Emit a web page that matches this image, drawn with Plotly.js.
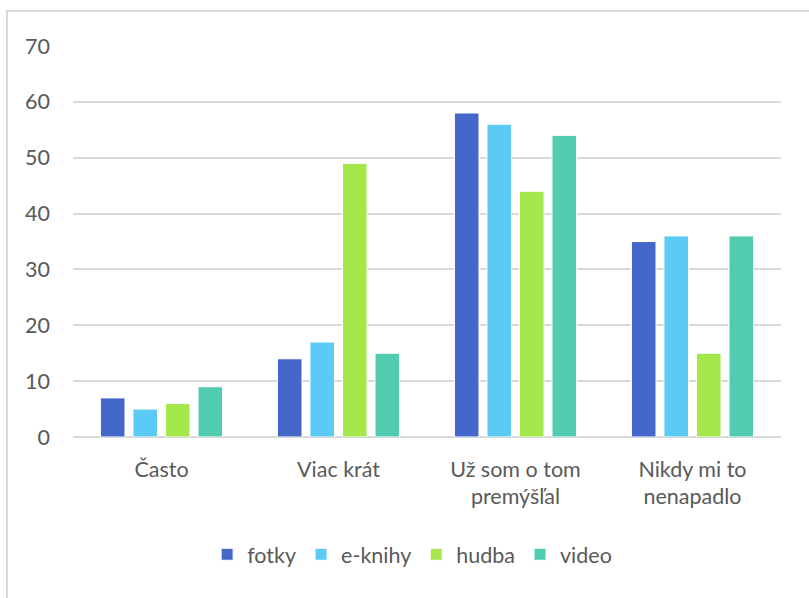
<!DOCTYPE html>
<html>
<head>
<meta charset="utf-8">
<script src="https://cdn.plot.ly/plotly-3.0.1.min.js"></script>
<style>
  html, body { margin: 0; padding: 0; background: #ffffff; }
  #chart { width: 809px; height: 598px; }
</style>
</head>
<body>
<div id="chart"></div>
<script>
// Answer categories (x axis)
const categories = ["Často", "Viac krát", "Už som o tom<br>premýšľal", "Nikdy mi to<br>nenapadlo"];

// Series values per category
const fotky  = [7, 14, 58, 35];
const eknihy = [5, 17, 56, 36];
const hudba  = [6, 49, 44, 15];
const video  = [9, 15, 54, 36];

const seriesNames = ["fotky", "e-knihy", "hudba", "video"];
const seriesValues = [fotky, eknihy, hudba, video];
const seriesColors = ["#4467c9", "#5bcbf5", "#a4e84c", "#52ccb1"];

// Y axis ticks
const yTicks = [0, 10, 20, 30, 40, 50, 60, 70];

const textColor = "#595959";
const gridColor = "#d9d9d9";
const fontFamily = "Lato, Open Sans, Liberation Sans, sans-serif";

const traces = seriesNames.map((name, i) => ({
  type: "bar",
  name: name,
  x: categories,
  y: seriesValues[i],
  marker: { color: seriesColors[i], line: { color: "#ffffff", width: 1 } },
  hoverinfo: "x+y+name"
}));

const layout = {
  width: 809,
  height: 598,
  margin: { l: 73, r: 28, t: 46, b: 161 },
  paper_bgcolor: "#ffffff",
  plot_bgcolor: "#ffffff",
  font: { family: fontFamily, size: 21.5, color: textColor },
  barmode: "group",
  bargap: 0.265,
  bargroupgap: 0.245,
  showlegend: true,
  legend: {
    orientation: "h",
    x: 0.479, xanchor: "center",
    y: -0.3, yanchor: "middle",
    font: { family: fontFamily, size: 21.5, color: textColor },
    itemclick: false
  },
  xaxis: {
    type: "category",
    showgrid: false,
    showline: false,
    zeroline: false,
    ticks: "",
    ticklabelstandoff: 17,
    tickfont: { family: fontFamily, size: 21.5, color: textColor }
  },
  yaxis: {
    range: [0, 70],
    tickvals: yTicks,
    ticktext: yTicks.map(String),
    showgrid: true,
    gridcolor: gridColor,
    gridwidth: 1.5,
    zeroline: true,
    zerolinecolor: gridColor,
    zerolinewidth: 1.5,
    showline: false,
    ticks: "",
    ticklabelstandoff: 22,
    tickfont: { family: fontFamily, size: 21.5, color: textColor }
  },
  shapes: [
    {
      // light frame around the chart area
      type: "rect",
      xref: "paper", yref: "paper",
      x0: -0.0932, x1: 1.5,
      y0: -1.0, y1: 1.0895,
      line: { color: gridColor, width: 2 },
      fillcolor: "rgba(0,0,0,0)",
      layer: "below"
    }
  ]
};

Plotly.newPlot("chart", traces, layout, { displayModeBar: false });
</script>
</body>
</html>
